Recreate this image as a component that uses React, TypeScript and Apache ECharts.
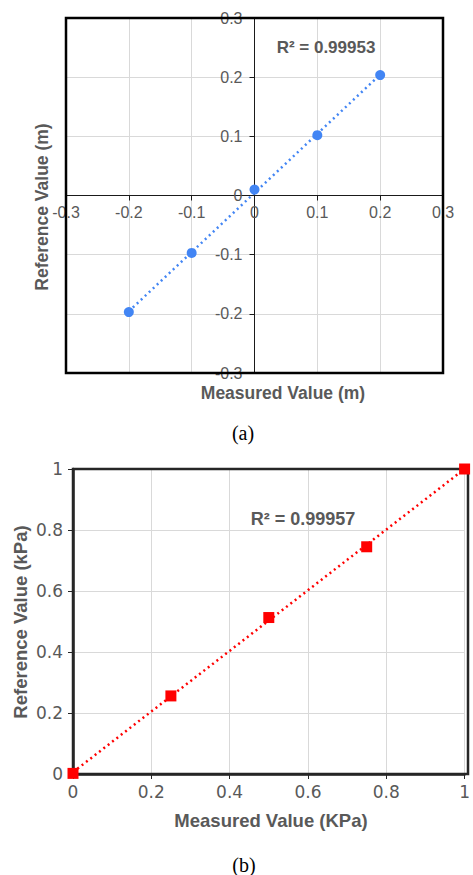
import React, { useEffect, useRef } from "react";
import * as echarts from "echarts";

// ---- Data ----
const aMeasured = [-0.2, -0.1, 0, 0.1, 0.2];
const aReference = [-0.197, -0.097, 0.01, 0.102, 0.2035];
const aR2Label = "R² = 0.99953";
const aXTitle = "Measured Value (m)";
const aYTitle = "Reference Value (m)";
const aCaption = "(a)";

const bMeasured = [0, 0.25, 0.5, 0.75, 1];
const bReference = [0.002, 0.256, 0.513, 0.745, 1.0];
const bR2Label = "R² = 0.99957";
const bXTitle = "Measured Value (KPa)";
const bYTitle = "Reference Value (kPa)";
const bCaption = "(b)";

// least-squares trendline through the data, drawn between first and last x
function trend(xs: number[], ys: number[]) {
  const n = xs.length;
  const mx = xs.reduce((s, v) => s + v, 0) / n;
  const my = ys.reduce((s, v) => s + v, 0) / n;
  let sxy = 0;
  let sxx = 0;
  for (let i = 0; i < n; i++) {
    sxy += (xs[i] - mx) * (ys[i] - my);
    sxx += (xs[i] - mx) * (xs[i] - mx);
  }
  const slope = sxy / sxx;
  const icpt = my - slope * mx;
  const x0 = Math.min(...xs);
  const x1 = Math.max(...xs);
  return [
    [x0, icpt + slope * x0],
    [x1, icpt + slope * x1],
  ];
}

const pairs = (xs: number[], ys: number[]) => xs.map((x, i) => [x, ys[i]]);

// ---- Layout ----
const A = { left: 66, top: 18, width: 377, height: 355 };
const B = { left: 73, top: 469, width: 395, height: 305 };

const GREY = "#595959";
const GRID = "#d9d9d9";
const SANS = "Liberation Sans, Arial, sans-serif";
const SERIF = "Liberation Serif, Times New Roman, serif";
const BLUE = "#4285f4";
const RED = "#ff0000";

export default function App() {
  const ref = useRef<HTMLDivElement>(null);

  useEffect(() => {
    if (!ref.current) return;
    const chart = echarts.init(ref.current, undefined, { renderer: "svg" });

    const option: any = {
      animation: false,
      backgroundColor: "#ffffff",
      grid: [
        { ...A, containLabel: false },
        { ...B, containLabel: false },
      ],
      xAxis: [
        {
          type: "value",
          gridIndex: 0,
          min: -0.3,
          max: 0.3,
          interval: 0.1,
          position: "bottom",
          // axis crosses at y = 0, i.e. in the middle of the symmetric range
          offset: -A.height / 2,
          axisLine: { show: true, onZero: false, lineStyle: { color: "#1a1a1a", width: 1 } },
          axisTick: { show: true, length: 5, lineStyle: { color: "#1a1a1a" } },
          axisLabel: { color: GREY, fontSize: 16, fontFamily: SANS, margin: 9 },
          splitLine: { show: true, lineStyle: { color: GRID, width: 1 } },
        },
        {
          type: "value",
          gridIndex: 1,
          min: 0,
          max: 1,
          interval: 0.2,
          axisLine: { show: true, onZero: false, lineStyle: { color: "#262626", width: 2.5 } },
          axisTick: { show: true, length: 5, lineStyle: { color: "#262626" } },
          axisLabel: { color: GREY, fontSize: 17, fontFamily: "DejaVu Sans, sans-serif", margin: 9 },
          splitLine: { show: true, lineStyle: { color: GRID, width: 1 } },
        },
      ],
      yAxis: [
        {
          type: "value",
          gridIndex: 0,
          min: -0.3,
          max: 0.3,
          interval: 0.1,
          position: "left",
          // axis crosses at x = 0, i.e. in the middle of the symmetric range
          offset: -A.width / 2,
          axisLine: { show: true, onZero: false, lineStyle: { color: "#1a1a1a", width: 1 } },
          axisTick: { show: true, length: 5, lineStyle: { color: "#1a1a1a" } },
          axisLabel: { color: GREY, fontSize: 16, fontFamily: SANS, margin: 12 },
          splitLine: { show: true, lineStyle: { color: GRID, width: 1 } },
        },
        {
          type: "value",
          gridIndex: 1,
          min: 0,
          max: 1,
          interval: 0.2,
          axisLine: { show: true, onZero: false, lineStyle: { color: "#262626", width: 2.5 } },
          axisTick: { show: true, length: 5, lineStyle: { color: "#262626" } },
          axisLabel: { color: GREY, fontSize: 17, fontFamily: "DejaVu Sans, sans-serif", margin: 10 },
          splitLine: { show: true, lineStyle: { color: GRID, width: 1 } },
        },
      ],
      series: [
        {
          type: "line",
          xAxisIndex: 0,
          yAxisIndex: 0,
          data: trend(aMeasured, aReference),
          showSymbol: false,
          symbol: "none",
          lineStyle: { color: BLUE, width: 2.5, type: [2, 3.5] },
          z: 8,
          silent: true,
        },
        {
          type: "scatter",
          xAxisIndex: 0,
          yAxisIndex: 0,
          data: pairs(aMeasured, aReference),
          symbol: "circle",
          symbolSize: 10,
          itemStyle: { color: BLUE, opacity: 1 },
          z: 10,
        },
        {
          type: "line",
          xAxisIndex: 1,
          yAxisIndex: 1,
          data: trend(bMeasured, bReference),
          showSymbol: false,
          symbol: "none",
          lineStyle: { color: RED, width: 2.5, type: [2, 3.5] },
          z: 8,
          silent: true,
        },
        {
          type: "scatter",
          xAxisIndex: 1,
          yAxisIndex: 1,
          data: pairs(bMeasured, bReference),
          symbol: "rect",
          symbolSize: 11,
          itemStyle: { color: RED, opacity: 1 },
          z: 10,
        },
      ],
      graphic: [
        // plot borders
        {
          type: "rect",
          z: 5,
          silent: true,
          shape: { x: A.left, y: A.top, width: A.width, height: A.height },
          style: { fill: "none", stroke: "#000000", lineWidth: 2.5 },
        },
        {
          type: "rect",
          z: 5,
          silent: true,
          shape: { x: B.left, y: B.top, width: B.width, height: B.height },
          style: { fill: "none", stroke: "#262626", lineWidth: 2.5 },
        },
        // chart (a) texts
        {
          type: "text",
          x: 283,
          y: 393,
          style: {
            text: aXTitle,
            fill: GREY,
            font: `bold 17.5px ${SANS}`,
            textAlign: "center",
            textVerticalAlign: "middle",
          },
        },
        {
          type: "text",
          x: 42,
          y: 207,
          rotation: Math.PI / 2,
          style: {
            text: aYTitle,
            fill: GREY,
            font: `bold 17.5px ${SANS}`,
            textAlign: "center",
            textVerticalAlign: "middle",
          },
        },
        {
          type: "text",
          x: 326,
          y: 47,
          z: 12,
          style: {
            text: aR2Label,
            fill: GREY,
            font: `bold 17px ${SANS}`,
            textAlign: "center",
            textVerticalAlign: "middle",
          },
        },
        {
          type: "text",
          x: 243,
          y: 433,
          style: {
            text: aCaption,
            fill: "#000000",
            font: `20px ${SERIF}`,
            textAlign: "center",
            textVerticalAlign: "middle",
          },
        },
        // chart (b) texts
        {
          type: "text",
          x: 271,
          y: 820,
          style: {
            text: bXTitle,
            fill: GREY,
            font: `bold 18.5px ${SANS}`,
            textAlign: "center",
            textVerticalAlign: "middle",
          },
        },
        {
          type: "text",
          x: 20,
          y: 622,
          rotation: Math.PI / 2,
          style: {
            text: bYTitle,
            fill: GREY,
            font: `bold 18.5px ${SANS}`,
            textAlign: "center",
            textVerticalAlign: "middle",
          },
        },
        {
          type: "text",
          x: 303,
          y: 519,
          z: 12,
          style: {
            text: bR2Label,
            fill: GREY,
            font: `bold 18px ${SANS}`,
            textAlign: "center",
            textVerticalAlign: "middle",
          },
        },
        {
          type: "text",
          x: 244,
          y: 865,
          style: {
            text: bCaption,
            fill: "#000000",
            font: `20px ${SERIF}`,
            textAlign: "center",
            textVerticalAlign: "middle",
          },
        },
      ],
    };

    chart.setOption(option);
    return () => chart.dispose();
  }, []);

  return (
    <div
      ref={ref}
      style={{ position: "absolute", left: 0, top: 0, width: 473, height: 875 }}
    />
  );
}
